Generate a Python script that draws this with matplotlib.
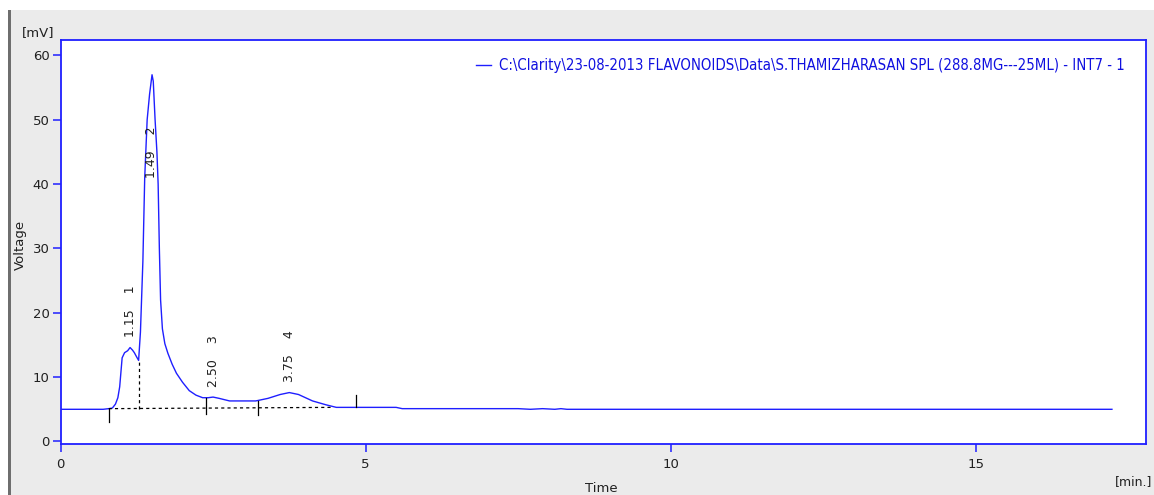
import matplotlib
matplotlib.use("Agg")
import matplotlib.pyplot as plt
from matplotlib.patches import Rectangle

# chromatogram trace (min, mV)
time = [0.0, 0.70, 0.79, 0.85, 0.90, 0.94, 0.97, 1.01, 1.05, 1.10, 1.14, 1.18,
        1.21, 1.25, 1.28, 1.31, 1.35, 1.38, 1.42, 1.46, 1.50, 1.52, 1.55, 1.58,
        1.60, 1.62, 1.64, 1.67, 1.71, 1.76, 1.83, 1.90, 2.00, 2.11, 2.22, 2.33, 2.42,
        2.50, 2.60, 2.77, 3.00, 3.20, 3.40, 3.60, 3.75, 3.90, 4.13, 4.35, 4.52,
        4.80, 5.50, 5.60, 7.50, 7.70, 7.90, 8.10, 8.20, 8.30, 17.23]
voltage = [5.0, 5.0, 5.1, 5.2, 5.8, 6.8, 8.5, 13.0, 13.8, 14.1, 14.6, 14.2,
           13.8, 13.1, 12.6, 17.0, 28.0, 41.0, 50.0, 54.0, 57.0, 56.0, 50.0, 45.0,
           40.0, 30.0, 22.0, 17.5, 15.2, 13.7, 12.0, 10.6, 9.2, 7.9, 7.2, 6.8, 6.8,
           6.9, 6.7, 6.3, 6.3, 6.3, 6.7, 7.3, 7.6, 7.3, 6.3, 5.7, 5.3,
           5.3, 5.3, 5.1, 5.1, 5.0, 5.1, 5.0, 5.1, 5.0, 5.0]

# peak table
peak_times = [1.15, 1.49, 2.50, 3.75]
peak_heights = [14.6, 57.0, 6.9, 7.6]
peak_ids = ["1", "2", "3", "4"]

# integration baseline and event marks (time, low mV, high mV)
baseline_t = [0.79, 4.46]
baseline_v = [5.1, 5.3]
solid_marks = [(0.79, 3.0, 5.1), (2.39, 4.2, 6.8), (3.23, 4.1, 6.3), (4.85, 5.3, 7.3)]
drop_lines = [(1.28, 5.1, 12.6)]

legend_label = r"C:\Clarity\23-08-2013 FLAVONOIDS\Data\S.THAMIZHARASAN SPL (288.8MG---25ML) - INT7 - 1"

blue = "#1f1fff"
bg = "#ebebeb"

fig = plt.figure(figsize=(11.54, 4.95), dpi=100, facecolor=bg)
# white strip on top and dark frame bar on the left
fig.patches.append(Rectangle((0, 1 - 10 / 495), 1, 10 / 495, transform=fig.transFigure,
                             facecolor="white", edgecolor="none", zorder=0))
fig.patches.append(Rectangle((0, 0), 8 / 1154, 1 - 10 / 495, transform=fig.transFigure,
                             facecolor="white", edgecolor="none", zorder=0))
fig.patches.append(Rectangle((8 / 1154, 0), 3 / 1154, 1 - 10 / 495, transform=fig.transFigure,
                             facecolor="#6e6e6e", edgecolor="none", zorder=0))

ax = fig.add_axes([60.5 / 1154, 1 - 444.3 / 495, 1085 / 1154, 404.3 / 495])
ax.set_facecolor("white")

ax.plot(time, voltage, color=blue, lw=1.0, label=legend_label)
ax.plot(baseline_t, baseline_v, color="black", lw=0.9, ls=(0, (2.5, 2.5)))
for t, lo, hi in solid_marks:
    ax.plot([t, t], [lo, hi], color="black", lw=0.9)
for t, lo, hi in drop_lines:
    ax.plot([t, t], [lo, hi], color="black", lw=0.9, ls=(0, (2.5, 2.5)))

for t, h, pid in zip(peak_times, peak_heights, peak_ids):
    ax.text(t, min(h + 1.6, 41.0), "%.2f    %s" % (t, pid), rotation=90,
            ha="center", va="bottom", fontsize=9, color="#202020")

ax.set_xlim(0, 17.78)
ax.set_ylim(-0.44, 62.4)
ax.set_xticks([0, 5, 10, 15])
ax.set_yticks([0, 10, 20, 30, 40, 50, 60])
for s in ax.spines.values():
    s.set_color(blue)
    s.set_linewidth(1.3)
ax.tick_params(axis="both", colors=blue, labelcolor="#202020", labelsize=9.5,
               length=6, width=1.1, direction="out")
ax.tick_params(axis="x", pad=4)
ax.tick_params(axis="y", pad=2)

# condensed legend text: shrink font until it spans the same width as the reference
leg_size = 11.0
for _ in range(3):
    leg = ax.legend(loc="upper right", frameon=False, handlelength=1.0, handletextpad=0.5,
                    borderaxespad=0.0, bbox_to_anchor=(1070 / 1085, 0.97),
                    prop={"family": "DejaVu Sans", "stretch": "condensed", "size": leg_size,
                          "weight": "medium"})
    fig.canvas.draw()
    w = leg.get_texts()[0].get_window_extent().width
    leg_size *= 625.0 / w
for txt in leg.get_texts():
    txt.set_color("#1010e0")

fig.text(38 / 1154, 1 - 33 / 495, "[mV]", ha="center", va="center", fontsize=9.5, color="#202020")
fig.text(20 / 1154, 1 - 245 / 495, "Voltage", ha="center", va="center", rotation=90,
         fontsize=9.5, color="#202020")
fig.text(601 / 1154, 1 - 488 / 495, "Time", ha="center", va="center", fontsize=9.5, color="#202020")
fig.text(1152 / 1154, 1 - 482 / 495, "[min.]", ha="right", va="center", fontsize=9, color="#202020")

fig.savefig("out.png", dpi=100, facecolor=bg)
